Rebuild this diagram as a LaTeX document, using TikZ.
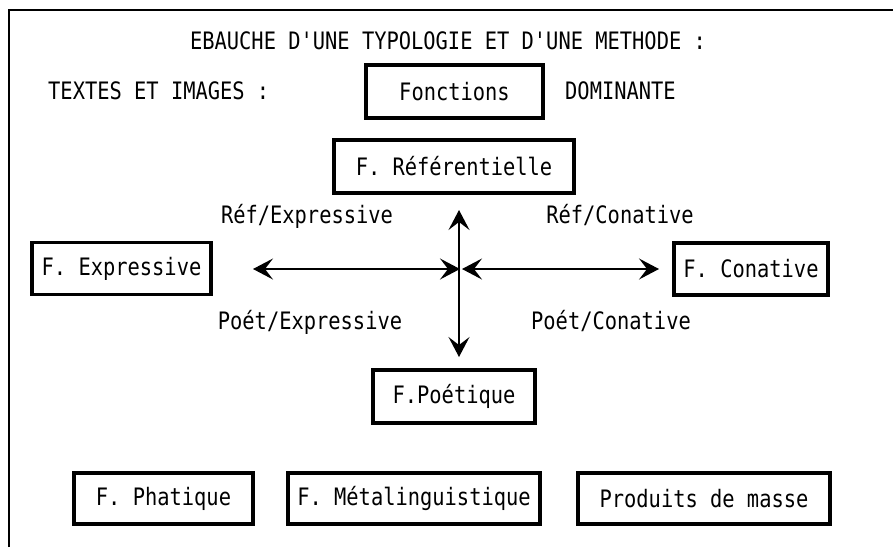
\documentclass[tikz,border=0pt]{standalone}
\usepackage{fontspec}
\setmonofont[FakeStretch=0.85]{DejaVu Sans Mono}
\usetikzlibrary{arrows.meta}
\tikzset{
  lbl/.style={font=\ttfamily\fontsize{24}{26}\selectfont, inner sep=0pt, anchor=base},
  fbox/.style={draw, line width=3.2pt, font=\ttfamily\fontsize{24}{26}\selectfont, inner sep=0pt},
  arr/.style={line width=1.5pt, {Stealth[length=20pt,width=21pt,inset=8pt]}-{Stealth[length=20pt,width=21pt,inset=8pt]}}
}
\begin{document}
\begin{tikzpicture}[x=1pt,y=-1pt]
\useasboundingbox (0,0) rectangle (893,547);
\fill[white] (0,0) rectangle (893,547);
\draw[line width=2pt] (9,547) -- (9,10) -- (893,10);
% texts
\node[lbl] (title) at (448,49) {EBAUCHE D'UNE TYPOLOGIE ET D'UNE METHODE :};
\node[lbl, anchor=base west] (textes) at (48,99) {TEXTES ET IMAGES :};
\node[lbl, anchor=base west] (dom) at (565,99) {DOMINANTE};
% boxes
\node[fbox, minimum width=177, minimum height=53] (fonc) at (454.5,91.5) {Fonctions};
\node[fbox, minimum width=240, minimum height=53] (ref) at (454,166.5) {F. Référentielle};
\node[fbox, minimum width=179, minimum height=52] (exp) at (121.5,268.5) {F. Expressive};
\node[fbox, minimum width=154, minimum height=52] (con) at (751,269) {F. Conative};
\node[fbox, minimum width=162, minimum height=53] (poet) at (454,396.5) {F.Poétique};
\node[fbox, minimum width=179, minimum height=51] (phat) at (163.5,498.5) {F. Phatique};
\node[fbox, minimum width=252, minimum height=51] (meta) at (414,498.5) {F. Métalinguistique};
\node[fbox, minimum width=252, minimum height=51] (prod) at (704,498.5) {Produits de masse};
% axis labels
\node[lbl] (refexp) at (307,223) {Réf/Expressive};
\node[lbl] (refcon) at (620,223) {Réf/Conative};
\node[lbl] (poetexp) at (310,329) {Poét/Expressive};
\node[lbl] (poetcon) at (611,329) {Poét/Conative};
% arrows
\coordinate (top) at (459,210);
\coordinate (bot) at (459,357);
\coordinate (lft) at (253,269);
\coordinate (rgt) at (659,269);
\coordinate (cl) at (460,269);
\coordinate (cr) at (462,269);
\draw[arr] (top) -- (bot);
\draw[arr] (lft) -- (cl);
\draw[arr] (cr) -- (rgt);
\end{tikzpicture}
\end{document}
